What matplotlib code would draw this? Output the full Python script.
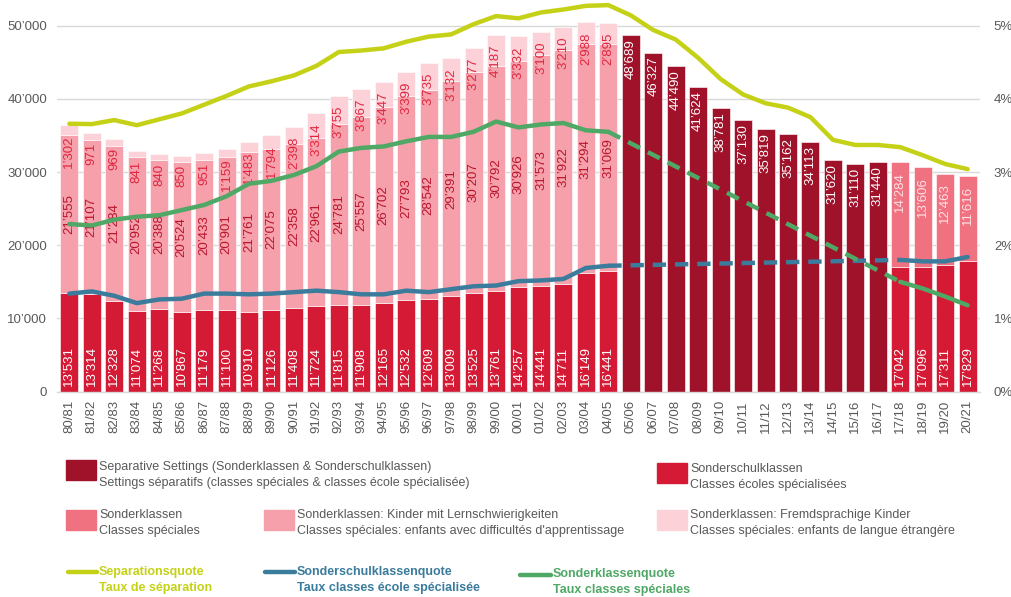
import numpy as np
import matplotlib.pyplot as plt
from matplotlib.patches import Rectangle
from matplotlib.lines import Line2D
import matplotlib.ticker as mticker

plt.rcParams['font.family'] = ['Liberation Sans', 'DejaVu Sans']

N = np.nan

years = ['80/81', '81/82', '82/83', '83/84', '84/85', '85/86', '86/87', '87/88', '88/89', '89/90',
         '90/91', '91/92', '92/93', '93/94', '94/95', '95/96', '96/97', '97/98', '98/99', '99/00',
         '00/01', '01/02', '02/03', '03/04', '04/05', '05/06', '06/07', '07/08', '08/09', '09/10',
         '10/11', '11/12', '12/13', '13/14', '14/15', '15/16', '16/17', '17/18', '18/19', '19/20',
         '20/21']

# Sonderschulklassen (bottom, red)
sonderschul = [13531, 13314, 12328, 11074, 11268, 10867, 11179, 11100, 10910, 11126,
               11408, 11724, 11815, 11908, 12165, 12532, 12609, 13009, 13525, 13761,
               14257, 14441, 14711, 16149, 16441, N, N, N, N, N,
               N, N, N, N, N, N, N, 17042, 17096, 17311,
               17829]
# Sonderklassen: Kinder mit Lernschwierigkeiten
lernschw = [21555, 21107, 21284, 20952, 20388, 20524, 20433, 20901, 21761, 22075,
            22358, 22961, 24781, 25557, 26702, 27793, 28542, 29391, 30207, 30792,
            30926, 31573, 31922, 31294, 31069, N, N, N, N, N,
            N, N, N, N, N, N, N, N, N, N,
            N]
# Sonderklassen: Fremdsprachige Kinder
fremdspr = [1302, 971, 969, 841, 840, 850, 951, 1159, 1483, 1794,
            2398, 3314, 3755, 3867, 3447, 3399, 3735, 3132, 3277, 4187,
            3332, 3100, 3210, 2988, 2895, N, N, N, N, N,
            N, N, N, N, N, N, N, N, N, N,
            N]
# Separative Settings (total, no breakdown)
separativ = [N] * 25 + [48689, 46327, 44490, 41624, 38781, 37130, 35819, 35162, 34113, 31620,
                        31110, 31440] + [N] * 4
# Sonderklassen (total, recent years)
sonderkl = [N] * 37 + [14284, 13606, 12463, 11616]

# rates in %
sep_quote = [3.66, 3.655, 3.71, 3.64, 3.72, 3.80, 3.92, 4.04, 4.17, 4.24,
             4.32, 4.45, 4.64, 4.66, 4.69, 4.78, 4.85, 4.88, 5.02, 5.13,
             5.10, 5.18, 5.22, 5.27, 5.28, 5.14, 4.94, 4.81, 4.56, 4.27,
             4.06, 3.94, 3.88, 3.75, 3.44, 3.37, 3.37, 3.34, 3.23, 3.11,
             3.04]
ssk_quote = [1.34, 1.37, 1.31, 1.21, 1.26, 1.27, 1.34, 1.34, 1.33, 1.34,
             1.36, 1.38, 1.36, 1.33, 1.33, 1.38, 1.36, 1.40, 1.44, 1.45,
             1.51, 1.52, 1.54, 1.69, 1.72, N, N, N, N, N,
             N, N, N, N, N, N, N, 1.80, 1.78, 1.78,
             1.84]
sk_quote = [2.29, 2.27, 2.35, 2.39, 2.41, 2.48, 2.55, 2.67, 2.84, 2.88,
            2.96, 3.08, 3.28, 3.33, 3.35, 3.42, 3.48, 3.48, 3.55, 3.69,
            3.61, 3.65, 3.67, 3.57, 3.55, N, N, N, N, N,
            N, N, N, N, N, N, N, 1.50, 1.41, 1.30,
            1.18]

c_sep = '#A0122A'
c_ssk = '#D51A35'
c_sk = '#F0717F'
c_lern = '#F5A0AA'
c_fremd = '#FCD2D8'
c_yellow = '#C5D117'
c_blue = '#3B7C9C'
c_green = '#4FA865'
grey = '#595959'


def fmt(v):
    return f"{int(v):,}".replace(',', '\u2019')


x = np.arange(len(years))
ssk = np.array(sonderschul, dtype=float)
lern = np.array(lernschw, dtype=float)
fre = np.array(fremdspr, dtype=float)
sep = np.array(separativ, dtype=float)
skl = np.array(sonderkl, dtype=float)

fig = plt.figure(figsize=(10.12, 5.97), dpi=100)
ax = fig.add_axes([57 / 1012, 1 - 391.7 / 597, 923 / 1012, 391.7 / 597])

w = 0.8
ec = dict(edgecolor='white', linewidth=0.4)
ax.bar(x, ssk, w, color=c_ssk, **ec)
ax.bar(x, lern, w, bottom=ssk, color=c_lern, **ec)
ax.bar(x, fre, w, bottom=ssk + lern, color=c_fremd, **ec)
ax.bar(x, sep, w, color=c_sep, **ec)
ax.bar(x, skl, w, bottom=ssk, color=c_sk, **ec)

lab = dict(rotation=90, ha='center', fontsize=9.5, textcoords='offset points')
for i in x:
    if np.isfinite(ssk[i]):
        ax.annotate(fmt(ssk[i]), (i, 0), xytext=(0, 4), va='bottom', color='white', **lab)
    if np.isfinite(lern[i]):
        ax.annotate(fmt(lern[i]), (i, ssk[i] + lern[i] / 2), xytext=(0, 0), va='center',
                    color='#B8142C', **lab)
    if np.isfinite(fre[i]):
        ax.annotate(fmt(fre[i]), (i, ssk[i] + lern[i] + fre[i]), xytext=(0, -7), va='top',
                    color='#E0253F', **lab)
    if np.isfinite(sep[i]):
        ax.annotate(fmt(sep[i]), (i, sep[i]), xytext=(0, -3), va='top', color='white', **lab)
    if np.isfinite(skl[i]):
        ax.annotate(fmt(skl[i]), (i, ssk[i] + skl[i]), xytext=(0, -7), va='top',
                    color='#FDE0E4', **lab)

ax.set_xlim(-0.55, len(years) - 0.45)
ax.set_ylim(0, 53500)
ax.set_yticks(np.arange(0, 50001, 10000))
ax.yaxis.set_major_formatter(mticker.FuncFormatter(lambda v, p: '0' if v == 0 else fmt(v)))
ax.set_xticks(x)
ax.set_xticklabels(years, rotation=90)
ax.tick_params(axis='both', length=0, colors=grey, labelsize=9.5)
ax.tick_params(axis='y', pad=7)
ax.tick_params(axis='x', pad=6)
ax.grid(axis='y', color='#D9D9D9', linewidth=1)
ax.set_axisbelow(True)
for s in ['top', 'right', 'left']:
    ax.spines[s].set_visible(False)
ax.spines['bottom'].set_color('#D9D9D9')
ax.spines['bottom'].set_linewidth(1)

ax2 = ax.twinx()
ax2.set_ylim(0, 5.35)
ax2.set_yticks(np.arange(0, 5.01, 1))
ax2.yaxis.set_major_formatter(mticker.FuncFormatter(lambda v, p: f"{v:.0f}%"))
ax2.tick_params(axis='y', length=0, colors=grey, labelsize=9.5, pad=10)
for s in ax2.spines.values():
    s.set_visible(False)

lw = 3.2
ax2.plot(x, sep_quote, color=c_yellow, lw=lw, solid_capstyle='round')
for q, c in [(ssk_quote, c_blue), (sk_quote, c_green)]:
    q = np.array(q, dtype=float)
    ax2.plot(x, q, color=c, lw=lw, solid_capstyle='round')
    ok = np.where(np.isfinite(q))[0]
    gap = np.where(np.diff(ok) > 1)[0][0]
    a, b = ok[gap], ok[gap + 1]
    ax2.plot([x[a], x[b]], [q[a], q[b]], color=c, lw=lw, linestyle=(0, (3, 2)))


# legend (manual layout)
def fx(px):
    return px / 1012


def fy(py):
    return 1 - py / 597


def patch_item(x0, yc, color, text, tx, ty):
    fig.add_artist(Rectangle((fx(x0), fy(yc + 10)), fx(30), 20 / 597, color=color,
                             transform=fig.transFigure))
    fig.text(fx(tx), fy(ty), text, ha='left', va='center', fontsize=9, color=grey,
             linespacing=1.5)


def line_item(x0, x1, yl, color, text, tx, ty):
    fig.add_artist(Line2D([fx(x0), fx(x1)], [fy(yl), fy(yl)], color=color, lw=lw,
                          solid_capstyle='round', transform=fig.transFigure))
    fig.text(fx(tx), fy(ty), text, ha='left', va='center', fontsize=9, color=color,
             fontweight='bold', linespacing=1.5)


patch_item(66, 470, c_sep, 'Separative Settings (Sonderklassen & Sonderschulklassen)\n'
           'Settings séparatifs (classes spéciales & classes école spécialisée)', 99, 475)
patch_item(657, 473, c_ssk, 'Sonderschulklassen\nClasses écoles spécialisées', 690, 477)
patch_item(66, 520, c_sk, 'Sonderklassen\nClasses spéciales', 99, 523)
patch_item(264, 520, c_lern, 'Sonderklassen: Kinder mit Lernschwierigkeiten\n'
           "Classes spéciales: enfants avec difficultés d'apprentissage", 297, 523)
patch_item(657, 520, c_fremd, 'Sonderklassen: Fremdsprachige Kinder\n'
           'Classes spéciales: enfants de langue étrangère', 690, 523)
line_item(68, 97, 572, c_yellow, 'Separationsquote\nTaux de séparation', 99, 580)
line_item(265, 295, 572, c_blue, 'Sonderschulklassenquote\nTaux classes école spécialisée', 297, 580)
line_item(520, 551, 575, c_green, 'Sonderklassenquote\nTaux classes spéciales', 553, 582)

fig.savefig('out.png', dpi=100)
